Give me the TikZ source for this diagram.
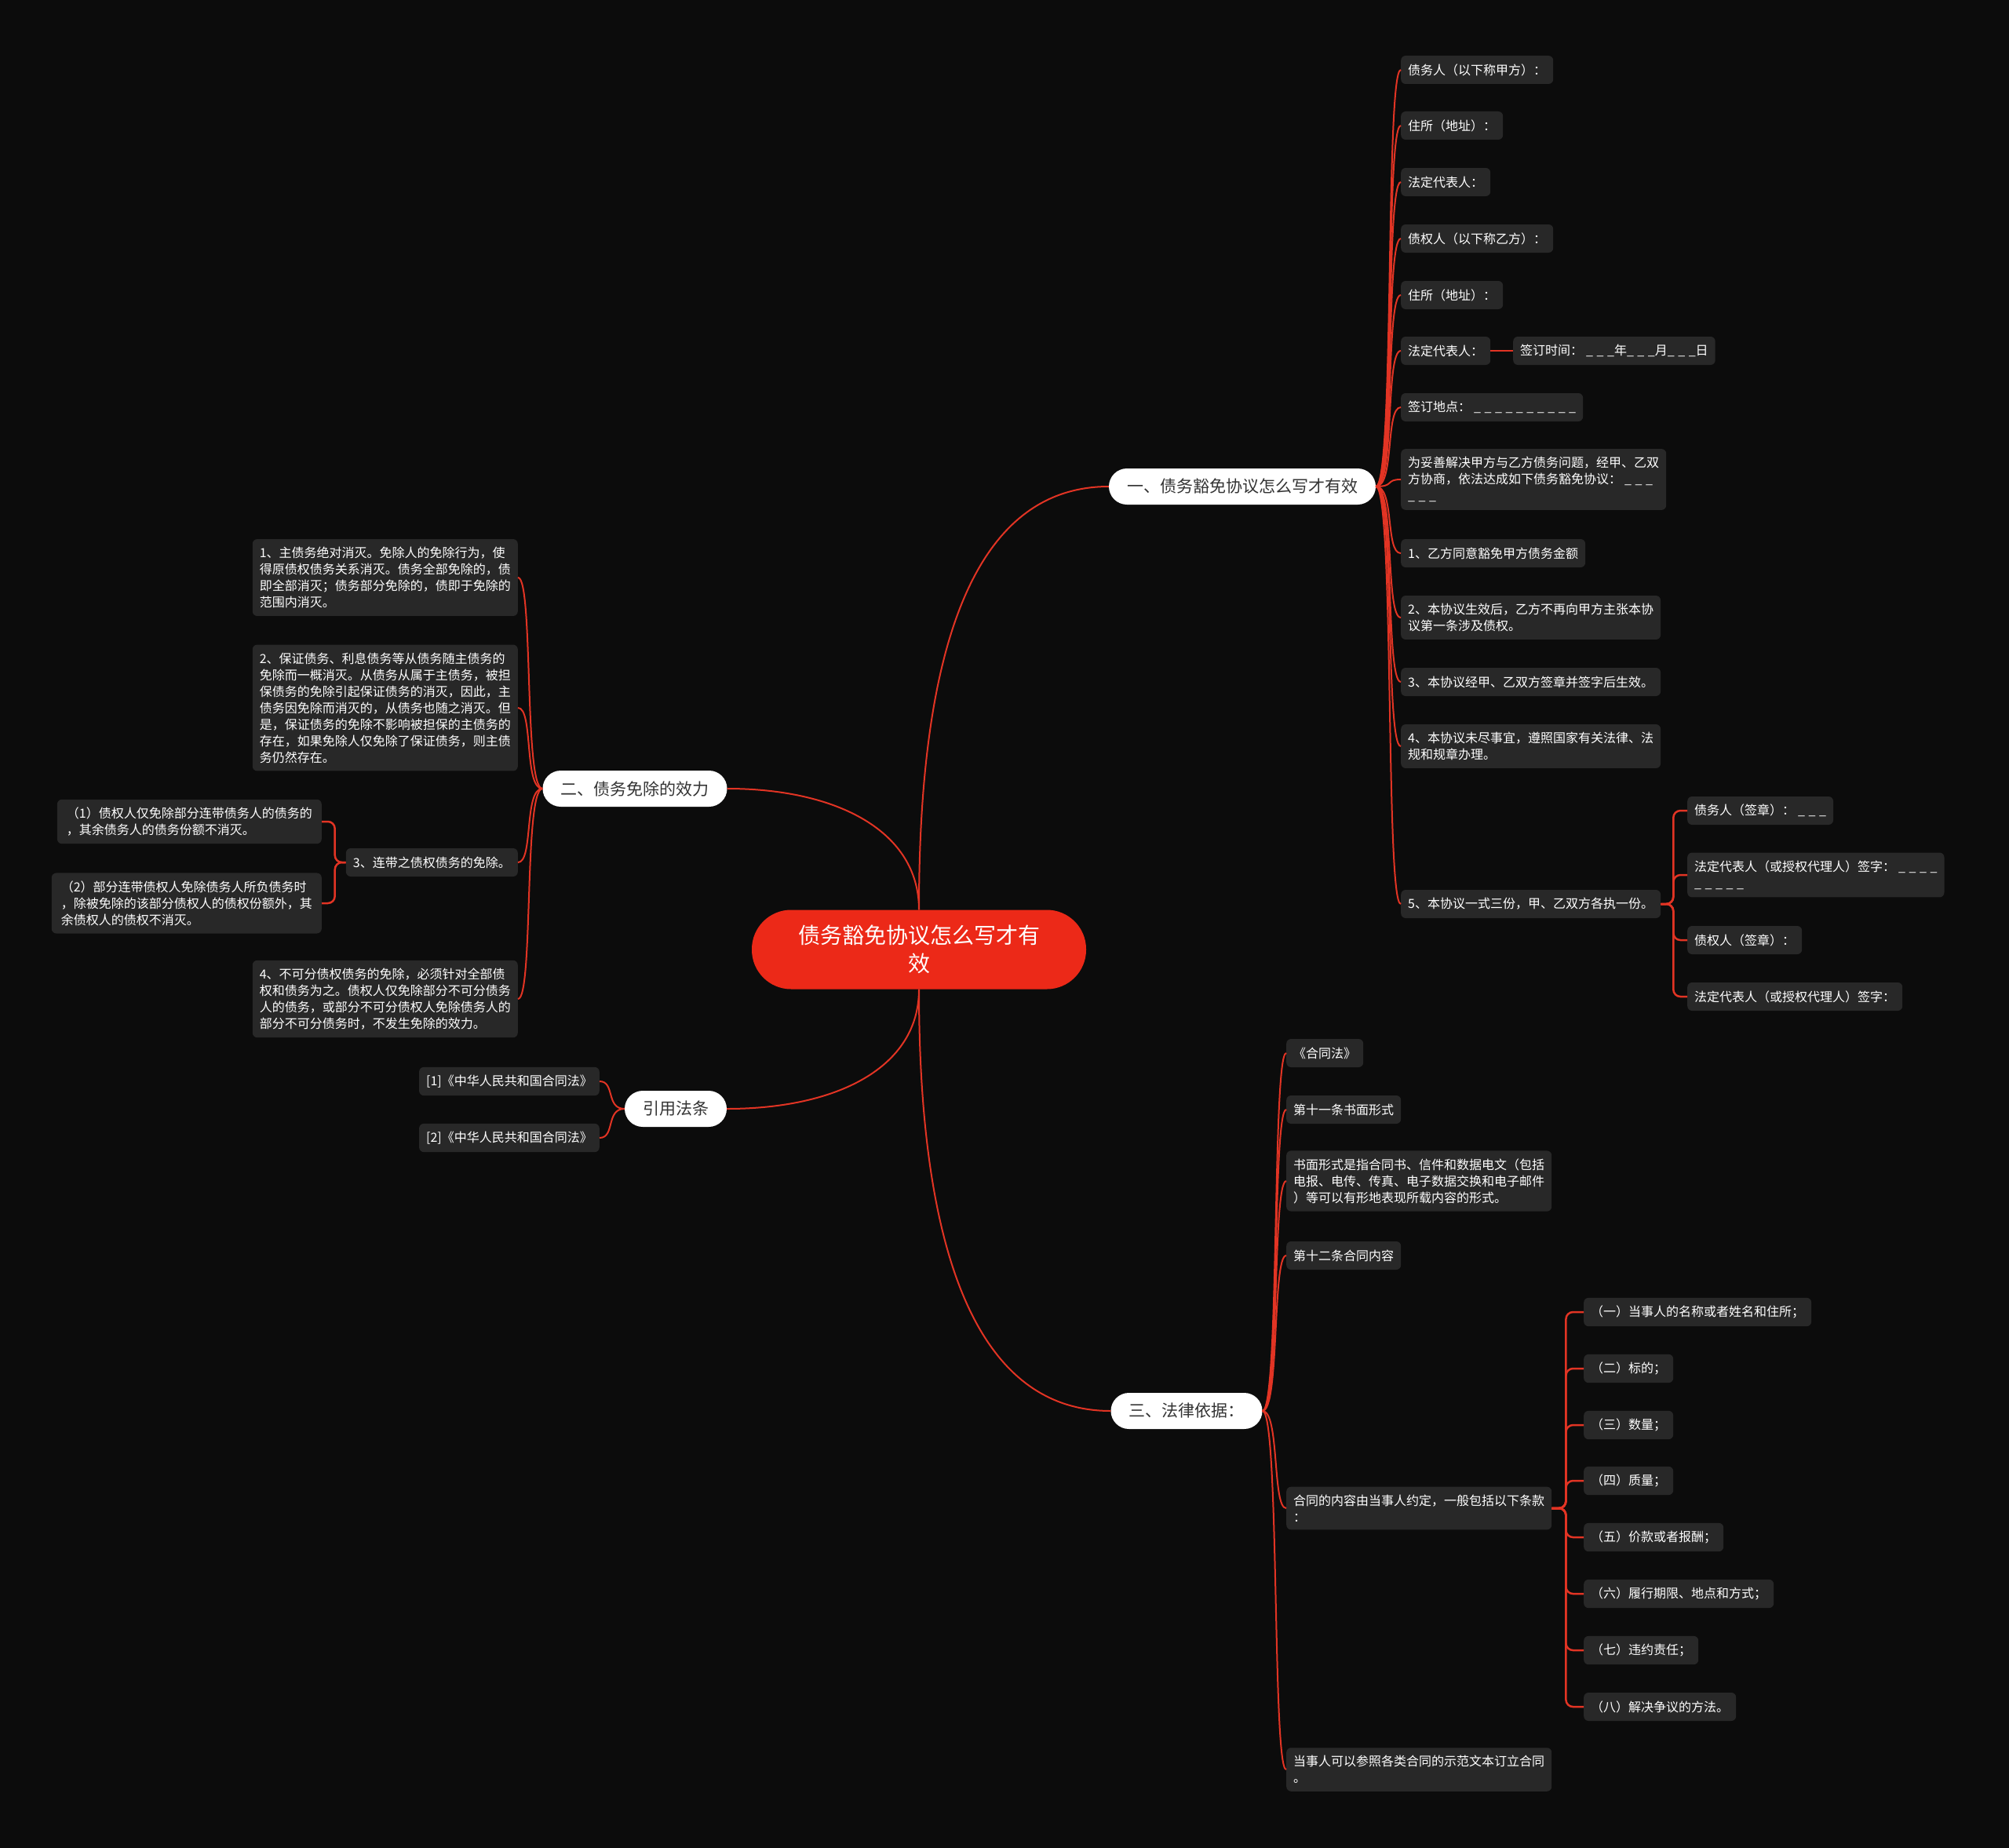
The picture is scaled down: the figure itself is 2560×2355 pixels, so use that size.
\documentclass[tikz,border=0pt]{standalone}
\usepackage{fontspec}
\newfontfamily\cjk{Noto Sans CJK SC}
\definecolor{bgc}{RGB}{12,12,12}
\definecolor{leafc}{RGB}{40,40,40}
\definecolor{linec}{RGB}{226,52,36}
\definecolor{rootc}{RGB}{236,41,24}
\definecolor{pilltext}{RGB}{51,51,51}
% one blank of a form line
\newcommand\bl{\_\hspace{4.5pt}}

\tikzset{
  leaf/.style={fill=leafc,text=white,rounded corners=6pt,inner xsep=9pt,inner ysep=10pt,
               minimum height=36pt,align=left,font=\cjk\fontsize{16}{21}\selectfont},
  pill/.style={fill=white,text=pilltext,rounded corners=23pt,inner xsep=23pt,
               minimum height=46pt,font=\cjk\fontsize{21}{26}\selectfont},
  link/.style={draw=linec,line width=2pt},
  brace/.style={draw=linec,line width=2.5pt,rounded corners=9pt},
}

\begin{document}
\begin{tikzpicture}[x=1pt,y=-1pt]
  \fill[bgc] (0,0) rectangle (2560,2355);
  \useasboundingbox (0,0) rectangle (2560,2355);

  \node[fill=rootc,text=white,rounded corners=50pt,minimum width=426pt,minimum height=101pt,
        align=center,font=\cjk\fontsize{28}{36}\selectfont] (root) at (1171,1210) {债务豁免协议怎么写才有\\效};

  \node[pill] (b1) at (1583,620) {一、债务豁免协议怎么写才有效};
  \node[pill] (b2) at (809,1005) {二、债务免除的效力};
  \node[pill] (cite) at (861,1413) {引用法条};
  \node[pill] (b4) at (1512,1798) {三、法律依据：};

  % branch one
  \node[leaf,anchor=west] (l1) at (1785,89) {债务人（以下称甲方）：};
  \node[leaf,anchor=west] (l2) at (1785,160) {住所（地址）：};
  \node[leaf,anchor=west] (l3) at (1785,232) {法定代表人：};
  \node[leaf,anchor=west] (l4) at (1785,304) {债权人（以下称乙方）：};
  \node[leaf,anchor=west] (l5) at (1785,376) {住所（地址）：};
  \node[leaf,anchor=west] (l6) at (1785,447) {法定代表人：};
  \node[leaf,anchor=west] (sign) at (1928,447) {签订时间：\hspace{4pt}\bl\bl\_年\bl\bl\_月\bl\bl\_日};
  \node[leaf,anchor=west] (l7) at (1785,519) {签订地点：\hspace{4pt}\bl\bl\bl\bl\bl\bl\bl\bl\bl\_};
  \node[leaf,anchor=west] (l8) at (1785,611) {为妥善解决甲方与乙方债务问题，经甲、乙双\\方协商，依法达成如下债务豁免协议：\hspace{4pt}\bl\bl\_\\\bl\bl\_};
  \node[leaf,anchor=west] (l9) at (1785,705) {1、乙方同意豁免甲方债务金额};
  \node[leaf,anchor=west] (l10) at (1785,787) {2、本协议生效后，乙方不再向甲方主张本协\\议第一条涉及债权。};
  \node[leaf,anchor=west] (l11) at (1785,869) {3、本协议经甲、乙双方签章并签字后生效。};
  \node[leaf,anchor=west] (l12) at (1785,951) {4、本协议未尽事宜，遵照国家有关法律、法\\规和规章办理。};
  \node[leaf,anchor=west] (l13) at (1785,1152) {5、本协议一式三份，甲、乙双方各执一份。};
  \node[leaf,anchor=west] (s1) at (2150,1033) {债务人（签章）：\hspace{4pt}\bl\bl\_};
  \node[leaf,anchor=west] (s2) at (2150,1115) {法定代表人（或授权代理人）签字：\hspace{4pt}\bl\bl\bl\_\\\bl\bl\bl\bl\_};
  \node[leaf,anchor=west] (s3) at (2150,1198) {债权人（签章）：};
  \node[leaf,anchor=west] (s4) at (2150,1270) {法定代表人（或授权代理人）签字：};

  % branch two
  \node[leaf,anchor=east] (m1) at (660,736) {1、主债务绝对消灭。免除人的免除行为，使\\得原债权债务关系消灭。债务全部免除的，债\\即全部消灭；债务部分免除的，债即于免除的\\范围内消灭。};
  \node[leaf,anchor=east] (m2) at (660,902) {2、保证债务、利息债务等从债务随主债务的\\免除而一概消灭。从债务从属于主债务，被担\\保债务的免除引起保证债务的消灭，因此，主\\债务因免除而消灭的，从债务也随之消灭。但\\是，保证债务的免除不影响被担保的主债务的\\存在，如果免除人仅免除了保证债务，则主债\\务仍然存在。};
  \node[leaf,anchor=east] (m3) at (660,1099) {3、连带之债权债务的免除。};
  \node[leaf,anchor=east] (m4) at (660,1273) {4、不可分债权债务的免除，必须针对全部债\\权和债务为之。债权人仅免除部分不可分债务\\人的债务，或部分不可分债权人免除债务人的\\部分不可分债务时，不发生免除的效力。};
  \node[leaf,anchor=east,inner xsep=12pt] (n1) at (410,1047) {（1）债权人仅免除部分连带债务人的债务的\\，其余债务人的债务份额不消灭。};
  \node[leaf,anchor=east,inner xsep=12pt] (n2) at (410,1151) {（2）部分连带债权人免除债务人所负债务时\\，除被免除的该部分债权人的债权份额外，其\\余债权人的债权不消灭。};

  % cited laws
  \node[leaf,anchor=east] (c1) at (764,1378) {[1]《中华人民共和国合同法》};
  \node[leaf,anchor=east] (c2) at (764,1450) {[2]《中华人民共和国合同法》};

  % branch three
  \node[leaf,anchor=west] (k1) at (1639,1342) {《合同法》};
  \node[leaf,anchor=west] (k2) at (1639,1414) {第十一条书面形式};
  \node[leaf,anchor=west] (k3) at (1639,1505) {书面形式是指合同书、信件和数据电文（包括\\电报、电传、传真、电子数据交换和电子邮件\\）等可以有形地表现所载内容的形式。};
  \node[leaf,anchor=west] (k4) at (1639,1600) {第十二条合同内容};
  \node[leaf,anchor=west] (k5) at (1639,1922) {合同的内容由当事人约定，一般包括以下条款\\：};
  \node[leaf,anchor=west] (k6) at (1639,2255) {当事人可以参照各类合同的示范文本订立合同\\。};
  \node[leaf,anchor=west] (q1) at (2018,1672) {（一）当事人的名称或者姓名和住所；};
  \node[leaf,anchor=west] (q2) at (2018,1744) {（二）标的；};
  \node[leaf,anchor=west] (q3) at (2018,1816) {（三）数量；};
  \node[leaf,anchor=west] (q4) at (2018,1887) {（四）质量；};
  \node[leaf,anchor=west] (q5) at (2018,1959) {（五）价款或者报酬；};
  \node[leaf,anchor=west] (q6) at (2018,2031) {（六）履行期限、地点和方式；};
  \node[leaf,anchor=west] (q7) at (2018,2103) {（七）违约责任；};
  \node[leaf,anchor=west] (q8) at (2018,2175) {（八）解决争议的方法。};

  % connectors
  \draw[link] (root.north) .. controls +(0,-260) and +(-200,0) .. (b1.west);
  \draw[link] (root.south) .. controls +(0,260) and +(-200,0) .. (b4.west);
  \draw[link] (root.north) .. controls +(0,-100) and +(140,0) .. (b2.east);
  \draw[link] (root.south) .. controls +(0,100) and +(140,0) .. (cite.east);

  \foreach \n in {l1,l2,l3,l4,l5,l6,l7,l8,l9,l10,l11,l12,l13}
    \draw[link] (b1.east) .. controls +(24,0) and +(-20,0) .. (\n.west);
  \foreach \n in {m1,m2,m3,m4}
    \draw[link] (b2.west) .. controls +(-24,0) and +(20,0) .. (\n.east);
  \foreach \n in {c1,c2}
    \draw[link] (cite.west) .. controls +(-24,0) and +(20,0) .. (\n.east);
  \foreach \n in {k1,k2,k3,k4,k5,k6}
    \draw[link] (b4.east) .. controls +(22,0) and +(-18,0) .. (\n.west);

  \draw[link] (l6.east) -- (sign.west);
  \foreach \n in {s1,s2,s3,s4}
    \draw[brace] (l13.east) -- ++(16,0) |- (\n.west);
  \foreach \n in {n1,n2}
    \draw[brace] (m3.west) -- ++(-14,0) |- (\n.east);
  \foreach \n in {q1,q2,q3,q4,q5,q6,q7,q8}
    \draw[brace] (k5.east) -- ++(18,0) |- (\n.west);
\end{tikzpicture}
\end{document}
